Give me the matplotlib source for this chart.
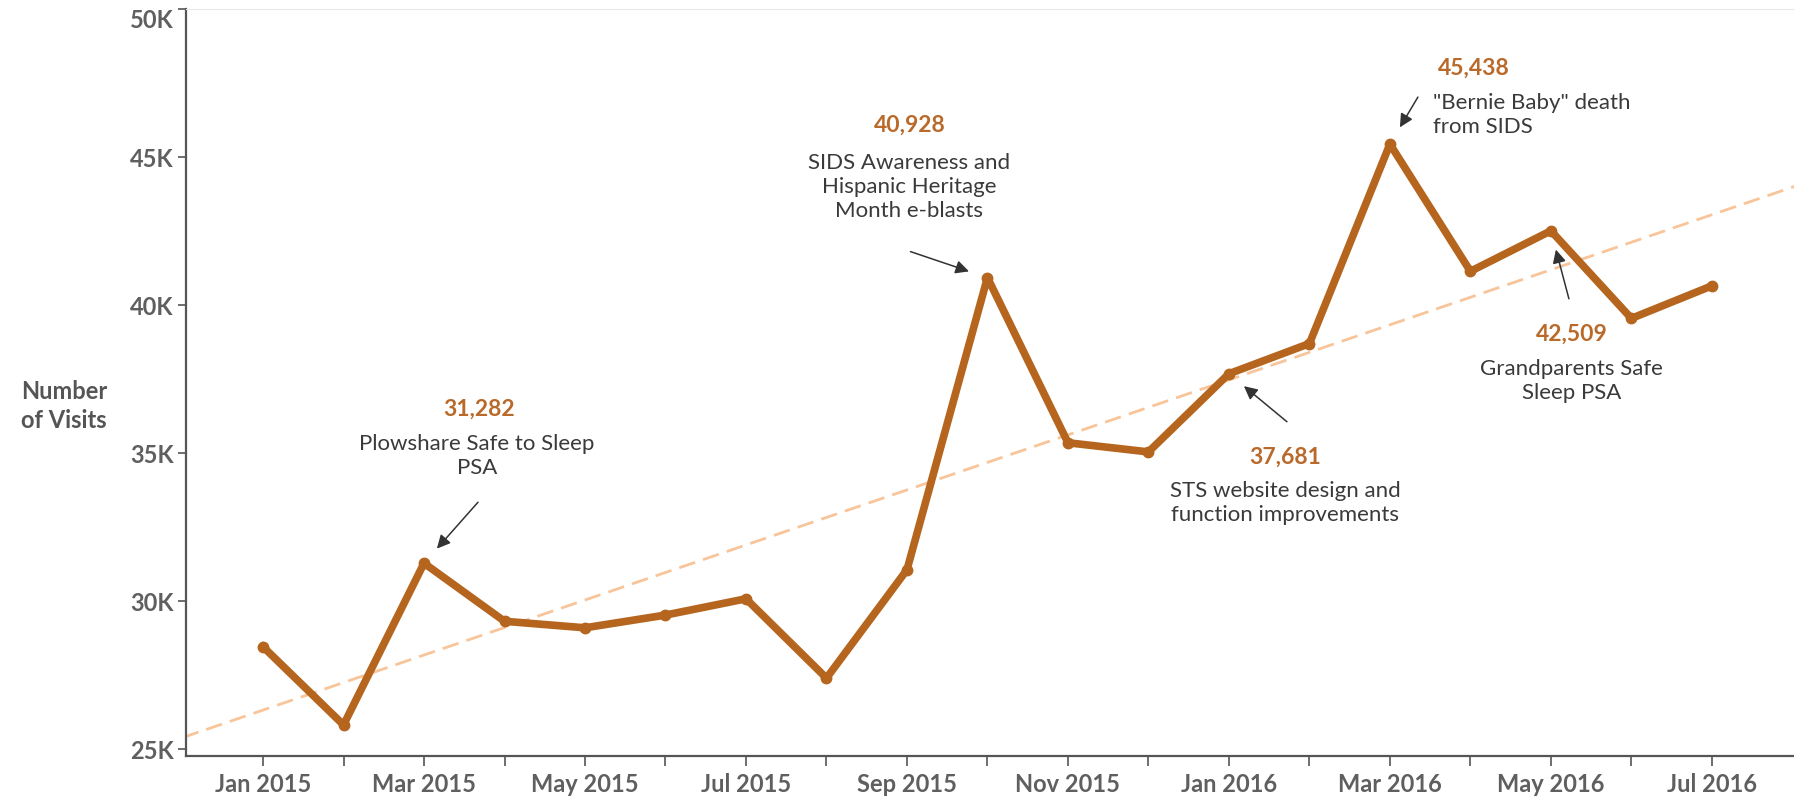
import numpy as np
import matplotlib.pyplot as plt
from matplotlib.ticker import FuncFormatter

plt.rcParams['font.family'] = ['Lato', 'DejaVu Sans']

# monthly visits, Jan 2015 .. Jul 2016
months = ['Jan 2015', 'Feb 2015', 'Mar 2015', 'Apr 2015', 'May 2015', 'Jun 2015',
          'Jul 2015', 'Aug 2015', 'Sep 2015', 'Oct 2015', 'Nov 2015', 'Dec 2015',
          'Jan 2016', 'Feb 2016', 'Mar 2016', 'Apr 2016', 'May 2016', 'Jun 2016',
          'Jul 2016']
visits = [28460, 25820, 31282, 29320, 29100, 29530, 30080, 27400, 31060, 40928,
          35350, 35040, 37681, 38700, 45438, 41140, 42509, 39550, 40650]

# callouts: month index and note text
notes_idx = [2, 9, 12, 14, 16]
notes_text = ['Plowshare Safe to Sleep\nPSA',
              'SIDS Awareness and\nHispanic Heritage\nMonth e-blasts',
              'STS website design and\nfunction improvements',
              '"Bernie Baby" death\nfrom SIDS',
              'Grandparents Safe\nSleep PSA']

line_col = '#b5651d'
num_col = '#b96a2b'
grey = '#5f5f5f'

fig = plt.figure(figsize=(17.94, 8.0), dpi=100)
ax = fig.add_axes([186 / 1794, 1 - 756 / 800, 1 - 186 / 1794, (756 - 9) / 800])

x = np.arange(len(months))
y = np.array(visits)

# trend line
k, b = np.polyfit(x, y, 1)
xt = np.array([-1.0, 19.1])
ax.plot(xt, k * xt + b, color='#f8c49a', lw=2, ls=(0, (6, 3)), zorder=1)

ax.plot(x, y, color=line_col, lw=5.5, marker='o', ms=7.5, solid_joinstyle='round',
        zorder=3)

ax.set_xlim(-0.957, 19.02)
ax.set_ylim(24770, 50000)
ax.set_yticks(range(25000, 50001, 5000))
ax.yaxis.set_major_formatter(FuncFormatter(lambda v, p: f'{v / 1000:.0f}K'))
ax.set_xticks(x)
ax.set_xticklabels([m if i % 2 == 0 else '' for i, m in enumerate(months)])

for lab in ax.get_xticklabels() + ax.get_yticklabels():
    lab.set_fontweight('bold')
    lab.set_color(grey)
    lab.set_fontsize(17)
ax.get_yticklabels()[-1].set_verticalalignment('top')
ax.tick_params(axis='x', length=7, width=1.2, color='#555555', pad=5)
ax.tick_params(axis='y', length=6, width=1.2, color='#555555', pad=3)

for s in ['left', 'bottom']:
    ax.spines[s].set_color('#555555')
    ax.spines[s].set_linewidth(1.6)
ax.spines['right'].set_visible(False)
ax.spines['top'].set_color('#e8e8e8')

fig.text(21 / 1794, 1 - 406 / 800, 'Number\nof Visits', fontsize=17, fontweight='bold',
         color='#555555', ha='left', va='center', linespacing=1.35)

# pixel offsets from the point: number label, note text, arrow tail
num_off = [(55, 154), (-78, 152), (56, -83), (48, 76), (21, -103)]
txt_off = [(53, 107), (-78, 91), (56, -129), (43, 29), (21, -150)]
arrow_tail = [(54, 61), (-77, 26), (58, -48), (28, 47), (18, -68)]
aligns = ['center', 'center', 'center', 'left', 'center']

for i, txt, no, to, at, ha in zip(notes_idx, notes_text, num_off, txt_off, arrow_tail, aligns):
    xy = (x[i], visits[i])
    ax.annotate(f'{visits[i]:,}', xy=xy, xytext=no, textcoords='offset pixels',
                ha=ha, va='center', fontsize=16.5, fontweight='bold', color=num_col)
    ax.annotate(txt, xy=xy, xytext=to, textcoords='offset pixels',
                ha=ha, va='center', fontsize=16, color='#3a3a3a', linespacing=1.25)
    ax.annotate('', xy=xy, xytext=at, textcoords='offset pixels',
                arrowprops=dict(arrowstyle='-|>', color='#333333', lw=1.1,
                                mutation_scale=20, shrinkA=0, shrinkB=14))

fig.savefig('out.png', dpi=100)
